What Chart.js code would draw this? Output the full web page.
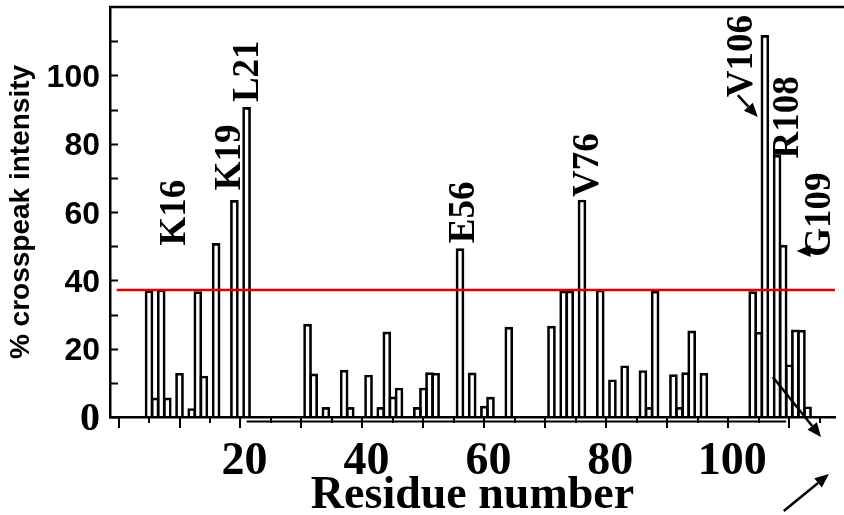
<!DOCTYPE html>
<html><head><meta charset="utf-8">
<script src="https://cdn.jsdelivr.net/npm/chart.js@4.4.1/dist/chart.umd.min.js"></script>
<style>html,body{margin:0;padding:0;background:#fff}#wrap{width:844px;height:515px;position:relative}</style>
</head><body><div id="wrap"><canvas id="c" width="844" height="515"></canvas></div>
<script>
// ---- data ----
const residues = [5,6,7,8,10,12,13,14,16,19,21,31,32,34,37,38,41,43,44,45,46,49,50,51,52,56,58,60,61,64,71,73,74,76,79,81,83,86,87,88,91,92,93,94,96,104,105,106,108,109,110,111,112,113];
const intensity = [37,5.6,37.3,5.6,12.8,2.5,36.7,12,50.8,63.4,90.6,27.2,12.6,2.8,13.7,2.8,12.3,2.8,24.9,5.9,8.5,2.8,8.5,13,12.8,49.3,12.9,3.2,5.8,26.3,26.6,36.9,36.9,63.5,37.2,10.9,15,13.6,2.8,36.8,12.4,2.8,13,25.2,12.8,36.7,24.8,111.7,76.6,50.3,15.3,25.5,25.4,3];
const threshold = 37.2;
const xTickLabels = [20,40,60,80,100];
const yTickLabels = [0,20,40,60,80,100];
const labelNames = ['K16','K19','L21','E56','V76','V106','R108','G109'];

// ---- annotation placement (data units), kept apart from data ----
const labelPos = [[8.85,59.8],[17.95,76.0],[20.74,101.2],[56.3,59.9],[76.5,73.7],[101.9,105.6],[109.3,87.7],[114.6,59.2]];
const arrowPos = [[[101.56,94.2],[104.84,87.8]],[[113.85,48.6],[111.2,48.6]],[[107.3,11.7],[115.2,-5.85]],[[109.1,-27.5],[116.5,-16.7]]];

const barData = residues.map((r,i)=>({x:r,y:intensity[i]}));

const decor = {
  id:'decor',
  afterDraw(chart){
    const {ctx, chartArea:a, scales:{x,y}} = chart;
    ctx.save();
    ctx.strokeStyle='#000'; ctx.fillStyle='#000'; ctx.lineCap='butt';
    ctx.lineWidth=2.5;
    ctx.beginPath(); ctx.moveTo(a.left-1, a.top); ctx.lineTo(chart.width, a.top); ctx.stroke();
    ctx.lineWidth=2;
    for(let v=0; v<=110; v+=10){
      const py=Math.round(y.getPixelForValue(v))+0.5;
      ctx.beginPath(); ctx.moveTo(a.left, py); ctx.lineTo(a.left+8, py); ctx.stroke();
    }
    for(let v=0; v<=115; v+=5){
      const px=Math.round(x.getPixelForValue(v));
      ctx.beginPath(); ctx.moveTo(px, a.bottom); ctx.lineTo(px, a.bottom+(v%10===0?11:6)); ctx.stroke();
    }
    ctx.lineWidth=2;
    ctx.beginPath(); ctx.moveTo(x.getPixelForValue(21), a.bottom+4.5); ctx.lineTo(x.getPixelForValue(109.5), a.bottom+4.5); ctx.stroke();
    ctx.font='bold 37px "Liberation Serif"';
    ctx.textAlign='center'; ctx.textBaseline='alphabetic';
    labelNames.forEach((t,i)=>{
      const px=x.getPixelForValue(labelPos[i][0]), py=y.getPixelForValue(labelPos[i][1]);
      ctx.save(); ctx.translate(px,py); ctx.rotate(-Math.PI/2);
      ctx.fillText(t,0,12.5); ctx.restore();
    });
    ctx.lineWidth=2.5;
    arrowPos.forEach(([f,t])=>{
      const x1=x.getPixelForValue(f[0]), y1=y.getPixelForValue(f[1]);
      const x2=x.getPixelForValue(t[0]), y2=y.getPixelForValue(t[1]);
      const ang=Math.atan2(y2-y1,x2-x1), L=14, W=6;
      const bx=x2-L*Math.cos(ang), by=y2-L*Math.sin(ang);
      ctx.beginPath(); ctx.moveTo(x1,y1); ctx.lineTo(bx,by); ctx.stroke();
      ctx.beginPath(); ctx.moveTo(x2,y2);
      ctx.lineTo(bx+W*Math.sin(ang), by-W*Math.cos(ang));
      ctx.lineTo(bx-W*Math.sin(ang), by+W*Math.cos(ang));
      ctx.closePath(); ctx.fill();
    });
    ctx.restore();
  }
};

new Chart(document.getElementById('c'), {
  type:'bar',
  data:{datasets:[
    {type:'bar', data:barData, backgroundColor:'rgba(0,0,0,0)', borderColor:'#000', borderWidth:2, barThickness:8, borderSkipped:'start', order:2},
    {type:'line', data:[{x:-0.3,y:threshold},{x:117.5,y:threshold}], borderColor:'#e00000', borderWidth:2.5, pointRadius:0, fill:false, order:1}
  ]},
  options:{
    responsive:false, animation:false,
    layout:{padding:{top:7,right:9,left:0,bottom:0}},
    plugins:{legend:{display:false}, tooltip:{enabled:false}},
    scales:{
      x:{type:'linear', min:-1.4, max:117.5, offset:false,
        grid:{display:false, drawTicks:false, offset:false},
        border:{color:'#000', width:2.5},
        ticks:{stepSize:5, autoSkip:false, maxRotation:0, padding:18, labelOffset:4, color:'#000',
          callback:v=>xTickLabels.includes(v)?String(v):'',
          font:{family:'Liberation Serif', weight:'bold', size:46}},
        title:{display:true, text:'Residue number', color:'#000', padding:0,
          font:{family:'Liberation Serif', weight:'bold', size:46, lineHeight:0.82}},
        afterFit:s=>{s.height=98; s.paddingLeft=0; s.paddingRight=0;}
      },
      y:{min:0, max:120,
        grid:{display:false, drawTicks:false},
        border:{color:'#000', width:2.5},
        ticks:{stepSize:10, autoSkip:false, padding:10, labelOffset:3, color:'#000',
          callback:v=>yTickLabels.includes(v)?String(v):'',
          font:c=>c.tick && c.tick.value===0 ? {family:'Liberation Serif', weight:'bold', size:40} : {family:'Liberation Sans', weight:'bold', size:32}},
        title:{display:true, text:'% crosspeak intensity', color:'#000', padding:{top:4,bottom:0},
          font:{family:'Liberation Sans', weight:'bold', size:28}},
        afterFit:s=>{s.width=110; s.paddingTop=0; s.paddingBottom=0;}
      }
    }
  },
  plugins:[decor]
});
</script></body></html>
